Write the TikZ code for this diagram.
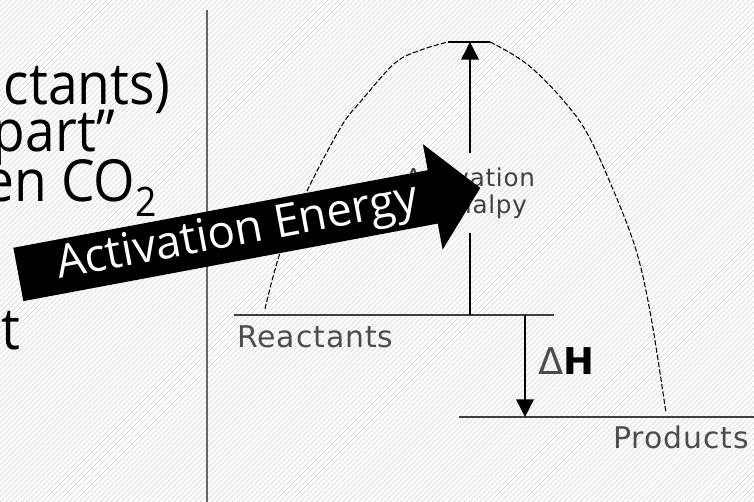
\documentclass[tikz,border=0pt]{standalone}
\usepackage{fontspec}
\setmainfont{Open Sans}
\newfontfamily\slidefont[FakeStretch=0.92]{Open Sans}
\newfontfamily\plotfont[LetterSpace=3]{DejaVu Sans}
\usetikzlibrary{arrows.meta,positioning,patterns,shapes.arrows}

\begin{document}
\begin{tikzpicture}[x=0.02cm, y=-0.02cm, >={Triangle[length=10pt,width=10pt]},
    slidetext/.style={anchor=base east, inner sep=0pt, font=\slidefont\fontsize{33}{33}\selectfont},
    plotlabel/.style={anchor=base west, inner sep=0pt, text=black!70, font=\plotfont\fontsize{17}{17}\selectfont},
    level/.style={draw=black!75, line width=1pt},
    curve/.style={line width=0.6pt, dash pattern=on 3pt off 1.2pt}]
  \useasboundingbox (0,0) rectangle (754,502);
  \clip (0,0) rectangle (754,502);
  \fill[white] (0,0) rectangle (754,502);
  \fill[pattern=north east lines, pattern color=gray!30] (0,0) rectangle (754,502);
  % separator
  \draw[gray!80!black, line width=1.2pt] (207,10) -- (207,502);

  % slide text (cut off)
  \node[slidetext] (line1) at (171,105) {ctants)};
  \node[slidetext] (line2) at (116,152) {part”};
  \node[slidetext] (line3) at (158,202) {en CO\textsubscript{2}};
  \node[slidetext] (line4) at (21,350) {t};

  % energy levels
  \coordinate (rleft) at (234,315);
  \coordinate (rright) at (554,315);
  \coordinate (pleft) at (459,417);
  \coordinate (pright) at (754,417);
  \draw[level] (rleft) -- (rright);
  \draw[level] (pleft) -- (pright);
  \node[plotlabel] (reac) at (237,348) {Reactants};
  \node[plotlabel] (prod) at (613,449) {Products};

  % reaction path
  \coordinate (topl) at (448,42);
  \coordinate (topr) at (490,42);
  \coordinate (peak) at (470,42);
  \draw[curve] plot[smooth, tension=0.6] coordinates {(265,309) (281,250) (306,193) (341,127) (362,100) (395,63) (421,50) (448,42)};
  \draw[curve] plot[smooth, tension=0.6] coordinates {(490,42) (512,54) (534,70) (563,100) (587,133) (612,187) (636,250) (651,317) (666,413)};
  \draw[line width=1.2pt] (topl) -- (topr);

  % activation enthalpy
  \node[plotlabel, anchor=center, text=black!75, align=center, minimum height=1.58cm,
        font=\plotfont\fontsize{14}{15.5}\selectfont] (ealbl) at (470,193) {Activation\\Enthalpy};
  \coordinate (rmid) at (470,315);
  \draw[->, line width=0.8pt] (ealbl.north) -- (peak);
  \draw[line width=0.8pt] (ealbl.south) -- (rmid);

  % enthalpy change
  \coordinate (dhtop) at (525,315);
  \coordinate (dhbot) at (525,417);
  \draw[->, line width=0.8pt] (dhtop) -- (dhbot);
  \node[plotlabel, text=black, font=\plotfont\fontsize{21}{21}\selectfont] (dh) at (538,375) {{\color{black!70}Δ}\textbf{H}};

  % callout arrow
  \node[single arrow, fill=black, text=white, rotate=10.6, anchor=tail,
        minimum height=9.4cm, single arrow head extend=0.53cm, single arrow head indent=0pt,
        single arrow tip angle=96, inner xsep=2pt, inner ysep=3pt, text height=19pt, text depth=5.5pt,
        font=\fontsize{26}{26}\selectfont] (actarrow) at (18,274.5) {Activation Energy};
\end{tikzpicture}
\end{document}
